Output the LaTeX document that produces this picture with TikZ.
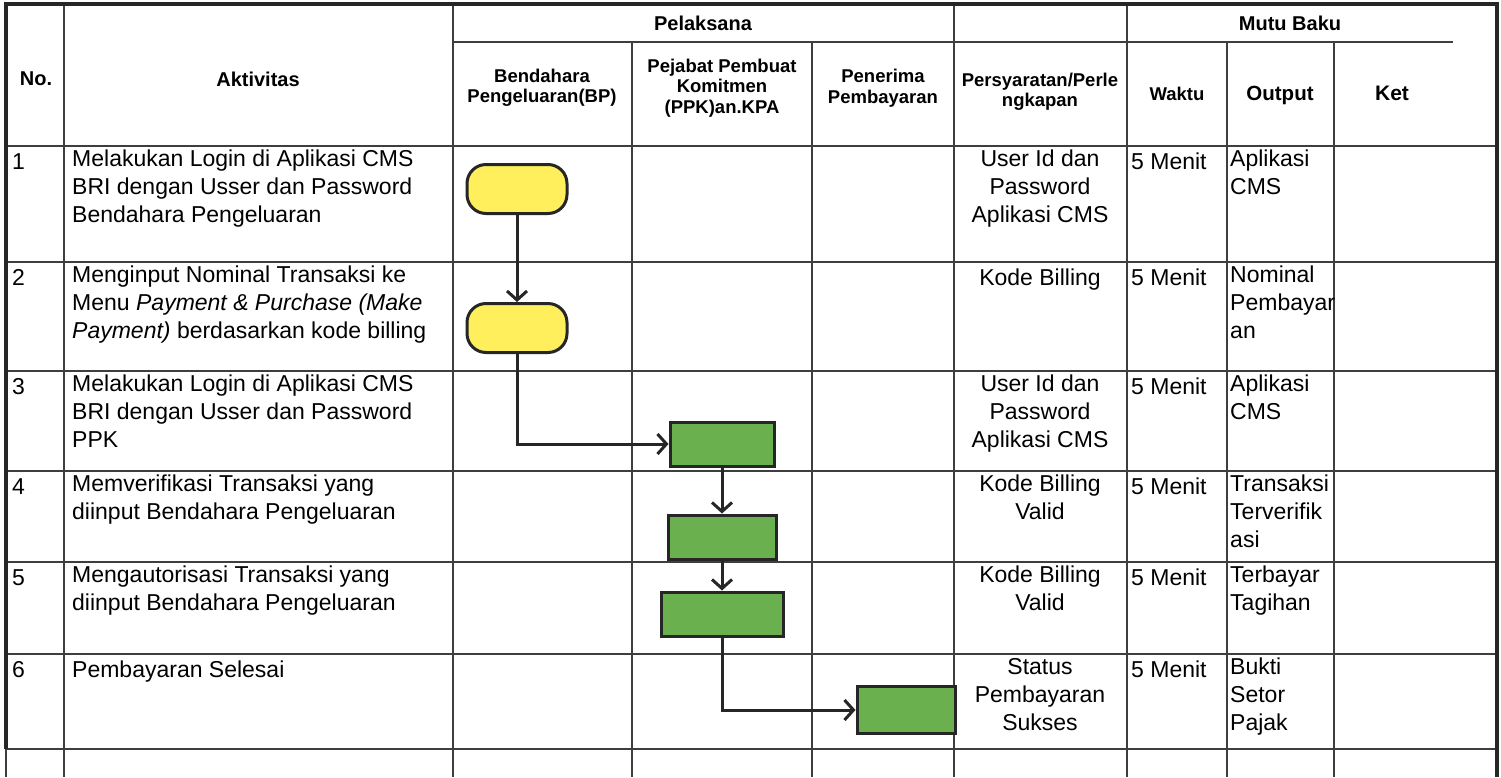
\documentclass[tikz,border=0pt]{standalone}
\usepackage{fontspec}
\setmainfont{Liberation Sans}
\usetikzlibrary{arrows.meta}

\definecolor{boxyellow}{RGB}{255,239,92}
\definecolor{boxgreen}{RGB}{106,176,78}
\definecolor{gridgray}{RGB}{62,62,62}

\tikzset{
  cell/.style={font=\fontsize{23}{28}\selectfont, align=left, anchor=north west,
    inner sep=0pt, execute at begin node=\strut},
  ccell/.style={cell, align=center, anchor=north},
  hdr/.style={font=\bfseries\fontsize{20}{24}\selectfont, align=center, inner sep=0pt},
  subhdr/.style={font=\bfseries\fontsize{18.5}{20.5}\selectfont, align=center, inner sep=0pt},
  terminal/.style={draw=black!85, line width=3pt, fill=boxyellow, rounded corners=19pt,
    minimum width=100pt, minimum height=49pt},
  task/.style={draw=black!85, line width=3pt, fill=boxgreen, minimum height=44pt},
  flow/.style={draw=black!85, line width=3pt, -{Straight Barb[length=9pt,width=20pt]}},
}

\begin{document}
\begin{tikzpicture}[x=1pt,y=-1pt]
\useasboundingbox (0,0) rectangle (1501,777);

% table lines
\begin{scope}[gridgray, line width=1.6pt]
  \draw (6,146) -- (1497,146) (6,262) -- (1497,262) (6,371) -- (1497,371)
        (6,471) -- (1497,471) (6,562) -- (1497,562) (6,654) -- (1497,654)
        (6,749) -- (1497,749);
  \draw (453,42) -- (1453,42);
  \draw (64,5) -- (64,777) (453,5) -- (453,777) (954,5) -- (954,777) (1127,5) -- (1127,777);
  \draw (632,42) -- (632,777) (812,42) -- (812,777) (1227,42) -- (1227,777) (1334,42) -- (1334,777);
  \draw (6,749) -- (6,777);
\end{scope}
\draw[line width=4pt, black!85] (6,749) -- (6,4) -- (1497,4) -- (1497,777);

% header
\begin{scope}[every node/.style={hdr}]
  \node (no)   at (36,79)   {No.};
  \node (akt)  at (258,79)  {Aktivitas};
  \node (pel)  at (703,23)  {Pelaksana};
  \node (mutu) at (1290,23) {Mutu Baku};
  \node[font=\bfseries\fontsize{20.5}{24}\selectfont] (out) at (1280,95) {Output};
  \node[font=\bfseries\fontsize{21}{24}\selectfont] (ket)  at (1392,93) {Ket};
\end{scope}
\begin{scope}[every node/.style={subhdr}]
  \node (bp)   at (542,88)  {Bendahara\\Pengeluaran(BP)};
  \node (ppk)  at (722,88)  {Pejabat Pembuat\\Komitmen\\(PPK)an.KPA};
  \node (pen)  at (883,88)  {Penerima\\Pembayaran};
  \node (syar) at (1040,92) {Persyaratan/Perle\\ngkapan};
  \node (wkt)  at (1177,94) {Waktu};
\end{scope}

% rows
\node[cell] (n1) at (12,150) {1};
\node[cell] (a1) at (72,150) {Melakukan Login di Aplikasi CMS\\BRI dengan Usser dan Password\\Bendahara Pengeluaran};
\node[ccell] (s1) at (1040,150) {User Id dan\\Password\\Aplikasi CMS};
\node[cell] (w1) at (1131,150) {5 Menit};
\node[cell] (o1) at (1230,150) {Aplikasi\\CMS};

\node[cell] (n2) at (12,266) {2};
\node[cell] (a2) at (72,266) {Menginput Nominal Transaksi ke\\Menu \textit{Payment \& Purchase (Make}\\\textit{Payment)} berdasarkan kode billing};
\node[ccell] (s2) at (1040,266) {Kode Billing};
\node[cell] (w2) at (1131,266) {5 Menit};
\node[cell] (o2) at (1230,266) {Nominal\\Pembayar\\an};

\node[cell] (n3) at (12,375) {3};
\node[cell] (a3) at (72,375) {Melakukan Login di Aplikasi CMS\\BRI dengan Usser dan Password\\PPK};
\node[ccell] (s3) at (1040,375) {User Id dan\\Password\\Aplikasi CMS};
\node[cell] (w3) at (1131,375) {5 Menit};
\node[cell] (o3) at (1230,375) {Aplikasi\\CMS};

\node[cell] (n4) at (12,475) {4};
\node[cell] (a4) at (72,475) {Memverifikasi Transaksi yang\\diinput Bendahara Pengeluaran};
\node[ccell] (s4) at (1040,475) {Kode Billing\\Valid};
\node[cell] (w4) at (1131,475) {5 Menit};
\node[cell] (o4) at (1230,475) {Transaksi\\Terverifik\\asi};

\node[cell] (n5) at (12,566) {5};
\node[cell] (a5) at (72,566) {Mengautorisasi Transaksi yang\\diinput Bendahara Pengeluaran};
\node[ccell] (s5) at (1040,566) {Kode Billing\\Valid};
\node[cell] (w5) at (1131,566) {5 Menit};
\node[cell] (o5) at (1230,566) {Terbayar\\Tagihan};

\node[cell] (n6) at (12,658) {6};
\node[cell] (a6) at (72,658) {Pembayaran Selesai};
\node[ccell] (s6) at (1040,658) {Status\\Pembayaran\\Sukses};
\node[cell] (w6) at (1131,658) {5 Menit};
\node[cell] (o6) at (1230,658) {Bukti\\Setor\\Pajak};

% flow
\begin{scope}[every node/.style={terminal}]
  \node (b1) at (517,189) {};
  \node (b2) at (517,328) {};
\end{scope}
\begin{scope}[every node/.style={task}]
  \node[minimum width=104pt] (p1) at (722,444) {};
  \node[minimum width=108pt] (p2) at (722,537) {};
  \node[minimum width=122pt] (p3) at (722,614) {};
  \node[minimum width=98pt, minimum height=47pt] (r1) at (906,710) {};
\end{scope}

\begin{scope}[every edge/.style={flow}]
  \path (b1) edge (b2);
  \path (p1) edge (p2);
  \path (p2) edge (p3);
\end{scope}
\draw[flow] (b2) |- (p1);
\draw[flow] (p3) |- (r1);

\end{tikzpicture}
\end{document}
